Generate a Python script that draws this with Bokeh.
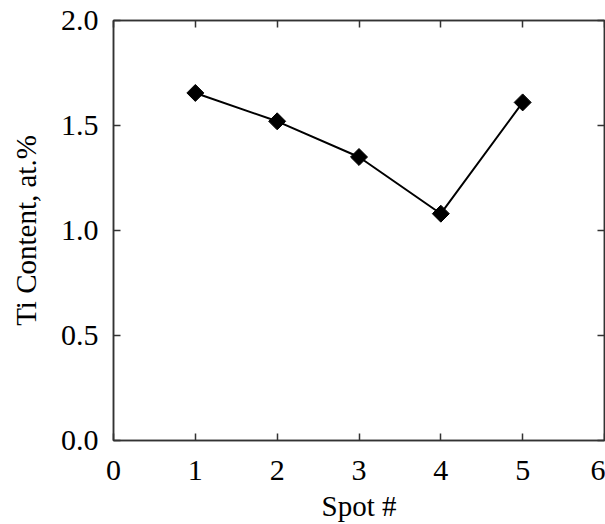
import math
from bokeh.plotting import figure
from bokeh.models import LinearAxis, FixedTicker, NumeralTickFormatter, Range1d, CustomJSTickFormatter
from bokeh.embed import file_html
from bokeh.resources import INLINE

spots = [1, 2, 3, 4, 5]
ti_content = [1.655, 1.52, 1.35, 1.08, 1.61]
x_ticks = [0, 1, 2, 3, 4, 5, 6]
y_ticks = [0.0, 0.5, 1.0, 1.5, 2.0]

FONT = "Liberation Serif"
AX = "#333333"

p = figure(width=605, height=524, output_backend="svg", toolbar_location=None,
           x_range=Range1d(0, 6), y_range=Range1d(0, 2),
           min_border_left=113, min_border_top=20, min_border_right=1, min_border_bottom=82)
p.grid.visible = False
p.outline_line_color = AX
p.outline_line_width = 1.5
p.background_fill_color = "white"
p.border_fill_color = "white"

p.line(spots, ti_content, line_color="black", line_width=2)
p.scatter(spots, ti_content, marker="square", angle=math.pi / 4, size=12,
          fill_color="black", line_color="black")

def style(ax):
    ax.axis_line_color = AX
    ax.axis_line_width = 1.5
    ax.major_tick_line_color = AX
    ax.major_tick_line_width = 1.5
    ax.major_tick_in = 7
    ax.major_tick_out = 0
    ax.minor_tick_line_color = None
    ax.major_label_text_font = FONT
    ax.major_label_text_font_size = "30px"
    ax.major_label_text_color = "black"
    ax.axis_label_text_font = FONT
    ax.axis_label_text_font_size = "29px"
    ax.axis_label_text_font_style = "normal"
    ax.axis_label_text_color = "black"

xa = p.xaxis[0]
xa.ticker = FixedTicker(ticks=x_ticks)
xa.formatter = NumeralTickFormatter(format="0")
xa.axis_label = "Spot #"
style(xa)
xa.major_label_standoff = 20
xa.axis_label_standoff = 7

ya = p.yaxis[0]
ya.ticker = FixedTicker(ticks=y_ticks)
ya.formatter = NumeralTickFormatter(format="0.0")
ya.axis_label = "Ti Content, at.%"
style(ya)
ya.major_label_standoff = 15
ya.axis_label_standoff = 16

blank = CustomJSTickFormatter(code="return ''")
top = LinearAxis(ticker=FixedTicker(ticks=x_ticks), formatter=blank)
style(top)
top.major_label_standoff = 0
p.add_layout(top, "above")
right = LinearAxis(ticker=FixedTicker(ticks=y_ticks), formatter=blank)
style(right)
right.major_label_standoff = 0
p.add_layout(right, "right")

open("out.html", "w").write(file_html(p, INLINE))
